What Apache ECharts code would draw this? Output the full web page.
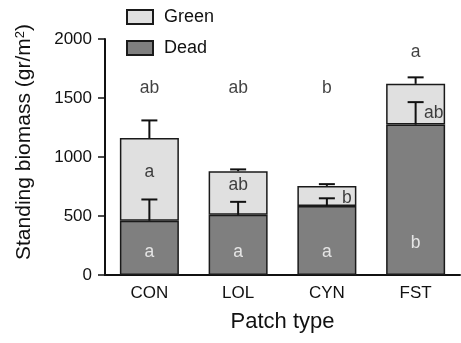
<!DOCTYPE html>
<html>
<head>
<meta charset="utf-8">
<script src="https://cdn.jsdelivr.net/npm/echarts@6/dist/echarts.min.js"></script>
<style>
html, body { margin: 0; padding: 0; background: #fff; }
#chart { width: 461px; height: 343px; }
</style>
</head>
<body>
<div id="chart"></div>
<script>
let categories = ['CON', 'LOL', 'CYN', 'FST']
let dead = [460, 510, 585, 1275]
let green = [700, 370, 170, 345]
let deadErr = [180, 110, 65, 190]   // upward error of dead part
let greenErr = [150, 15, 15, 55]    // upward error of total

// significance letters
let topLetters = ['ab', 'ab', 'b', 'a']
let topLetterY = [1580, 1580, 1580, 1890]
let greenLetters = ['a', 'ab', 'b', 'ab']
let greenLetterY = [870, 760, 655, 1375]
let deadLetters = ['a', 'a', 'a', 'b']
let deadLetterY = [195, 195, 195, 270]

let chart = echarts.init(document.getElementById('chart'))
let font = 'Liberation Sans, Arial, sans-serif'

let totals = dead.map((d, i) => d + green[i])
let errData = []
for (let i = 0; i < categories.length; i++) {
	errData.push([i, dead[i], dead[i] + deadErr[i]])
	errData.push([i, totals[i], totals[i] + greenErr[i]])
}

let letterData = []
for (let i = 0; i < categories.length; i++) {
	letterData.push({ value: [i, topLetterY[i]], label: { formatter: topLetters[i], color: '#111' } })
	let off = 0
	if (i == 2) off = 20
	if (i == 3) off = 18
	letterData.push({ value: [i, greenLetterY[i]], label: { formatter: greenLetters[i], color: '#111', offset: [off, 0] } })
	letterData.push({ value: [i, deadLetterY[i]], label: { formatter: deadLetters[i], color: '#fff' } })
}

let option = {
	animation: false,
	grid: { left: 105, right: 1, top: 39, bottom: 68 },
	legend: {
		orient: 'vertical',
		left: 121,
		top: 3,
		icon: 'rect',
		itemWidth: 26,
		itemHeight: 14,
		itemGap: 13,
		data: ['Green', 'Dead'],
		textStyle: { fontFamily: font, fontSize: 18, color: '#111', padding: [0, 0, 0, 6] }
	},
	xAxis: {
		type: 'category',
		data: categories,
		name: 'Patch type',
		nameLocation: 'middle',
		nameGap: 36,
		nameTextStyle: { fontFamily: font, fontSize: 22, color: '#111' },
		axisLine: { lineStyle: { color: '#111', width: 2 } },
		axisTick: { alignWithLabel: true, length: 6, lineStyle: { width: 1.5 } },
		axisLabel: { fontFamily: font, fontSize: 17, color: '#111', margin: 10 }
	},
	yAxis: {
		type: 'value',
		min: 0,
		max: 2000,
		interval: 500,
		name: 'Standing biomass (gr/m{sup|2})',
		nameLocation: 'middle',
		nameGap: 70,
		nameTextStyle: {
			fontFamily: font,
			fontSize: 21,
			color: '#111',
			padding: [0, 0, 0, 30],
			rich: {
				sup: { fontFamily: font, fontSize: 13, color: '#111', verticalAlign: 'top', padding: [0, 0, 8, 0] }
			}
		},
		splitLine: { show: false },
		axisLine: { show: true, lineStyle: { color: '#111', width: 2 } },
		axisTick: { show: true, length: 7, lineStyle: { width: 1.5 } },
		axisLabel: { fontFamily: font, fontSize: 17, color: '#111', margin: 13, formatter: v => String(v) }
	},
	series: [{
			name: 'Dead',
			type: 'bar',
			stack: 'total',
			barWidth: 59,
			data: dead,
			itemStyle: { color: '#7f7f7f', borderColor: '#1a1a1a', borderWidth: 1.5 }
		},
		{
			name: 'Green',
			type: 'bar',
			stack: 'total',
			barWidth: 59,
			data: green,
			itemStyle: { color: '#e0e0e0', borderColor: '#1a1a1a', borderWidth: 1.5 }
		},
		{
			name: 'err',
			type: 'custom',
			data: errData,
			z: 5,
			renderItem: function(params, api) {
				let lo = api.coord([api.value(0), api.value(1)])
				let hi = api.coord([api.value(0), api.value(2)])
				let w = 8
				return {
					type: 'group',
					children: [{
						type: 'line',
						shape: { x1: lo[0], y1: lo[1], x2: hi[0], y2: hi[1] },
						style: { stroke: '#111', lineWidth: 2 }
					}, {
						type: 'line',
						shape: { x1: hi[0] - w, y1: hi[1], x2: hi[0] + w, y2: hi[1] },
						style: { stroke: '#111', lineWidth: 2 }
					}]
				}
			}
		},
		{
			name: 'letters',
			type: 'scatter',
			symbolSize: 0,
			z: 6,
			data: letterData,
			label: {
				show: true,
				position: 'inside',
				fontFamily: font,
				fontSize: 17.5
			}
		}
	]
}

chart.setOption(option)
</script>
</body>
</html>
